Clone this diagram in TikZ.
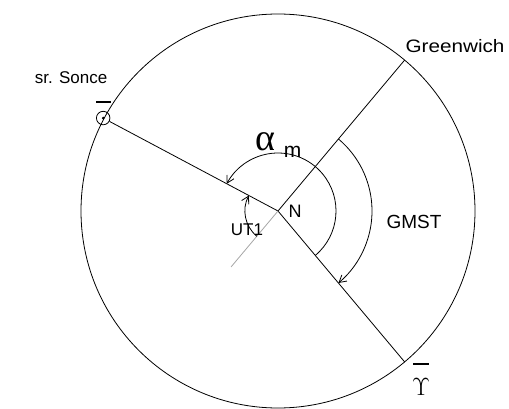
\documentclass[tikz,border=0pt]{standalone}
\usepackage{fontspec}
\setmainfont{Liberation Sans}
\newfontfamily\serifgr{Liberation Serif}
\usetikzlibrary{arrows.meta,calc}
\begin{document}
\begin{tikzpicture}[x=1pt,y=1pt, line width=0.8pt,
  arr/.style={-{Straight Barb[length=7pt,width=8pt]}},
  lbl/.style={inner sep=0pt, font=\fontsize{17}{20}\selectfont},
  bar/.style={line width=2pt}]
\useasboundingbox (0,0) rectangle (509,408);
\coordinate (N) at (278,197);
\draw (N) circle (197);
\coordinate (S) at ($(N)+(152:198)$);
\coordinate (G) at ($(N)+(50:197)$);
\coordinate (V) at ($(N)+(-50:197)$);
\coordinate (A) at ($(N)+(230:73)$);
% sun symbol
\node[circle, draw, minimum size=13.5pt, inner sep=0pt] (sun) at (S) {};
\fill (S) circle (1.4);
\draw[bar] (96,306) -- (111,306);
% lines
\draw (N) -- (sun);
\draw (N) -- (G);
\draw (N) -- (V);
\draw[gray!70] (N) -- (A);
% arcs
\draw[arr] ($(N)+(230:33)$) arc[start angle=230, end angle=152, radius=33];
\draw[arr] ($(N)+(-50:58)$) arc[start angle=-50, end angle=152, radius=58];
\draw[arr] ($(N)+(50:94)$) arc[start angle=50, end angle=-50, radius=94];
% vernal equinox
\draw[bar] (413,44) -- (429,44);
\node[inner sep=0pt, anchor=base, font=\fontsize{32}{36}\selectfont] (ari) at (421,13) {$\Upsilon$};
% labels
\node[lbl] (sonce) at (71,330) {sr. Sonce};
\node[lbl, font=\fontsize{18}{20}\selectfont, xscale=1.15] (grw) at (455,362) {Greenwich};
\node[lbl, font=\fontsize{19}{22}\selectfont] (gmst) at (414,186) {GMST};
\node[lbl] (ut) at (247,178) {UT1};
\node[lbl, font=\fontsize{18}{20}\selectfont] (nl) at (295,196.5) {N};
\node[inner sep=0pt, font=\fontsize{38}{40}\serifgr] (alp) at (265.5,266.5) {α};
\node[lbl, font=\fontsize{21}{24}\selectfont] (msub) at (292.5,256.5) {m};
\end{tikzpicture}
\end{document}
